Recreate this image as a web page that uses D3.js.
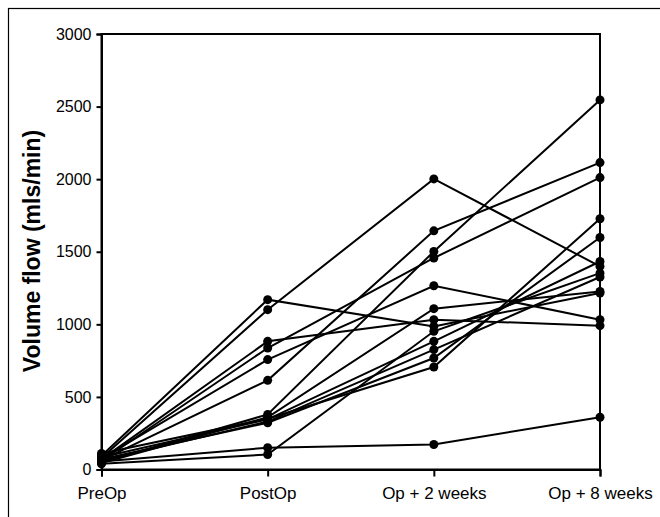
<!DOCTYPE html>
<html>
<head>
<meta charset="utf-8">
<script src="https://cdn.jsdelivr.net/npm/d3@7"></script>
<style>
body { margin:0; background:#fff; }
text { font-family: "Liberation Sans", Arial, sans-serif; fill:#000; }
</style>
</head>
<body>
<script>
var categories = ['PreOp','PostOp','Op + 2 weeks','Op + 8 weeks'];
var yTicks = [0,500,1000,1500,2000,2500,3000];
// one array per patient: PreOp, PostOp, Op+2 weeks, Op+8 weeks
var patient1  = [80, 1101, 2002, 1399];
var patient2  = [95, 1170, 986, 1216];
var patient3  = [70, 883, 1032, 991];
var patient4  = [60, 837, 1457, 2011];
var patient5  = [75, 757, 1266, 1032];
var patient6  = [65, 614, 1644, 2114];
var patient7  = [50, 379, 1502, 2546];
var patient8  = [40, 103, 952, 1353];
var patient9  = [55, 150, 172, 360];
var patient10 = [45, 360, 1108, 1227];
var patient11 = [85, 345, 883, 1433];
var patient12 = [60, 330, 826, 1326];
var patient13 = [70, 322, 768, 1598];
var patient14 = [110, 350, 706, 1727];
var patients = [patient1,patient2,patient3,patient4,patient5,patient6,patient7,
                patient8,patient9,patient10,patient11,patient12,patient13,patient14];

var svg = d3.select('body').append('svg').attr('width',660).attr('height',517);

// outer frame of the figure
svg.append('rect').attr('x',8.5).attr('y',8.5).attr('width',700).attr('height',600)
  .attr('fill','none').attr('stroke','#000').attr('stroke-width',1.2);

var x = d3.scalePoint().domain(categories).range([101.5,600]);
var y = d3.scaleLinear().domain([0,3000]).range([469.5,34]);

// box around plot
svg.append('rect').attr('x',101.5).attr('y',34).attr('width',498.5).attr('height',435.5)
  .attr('fill','none').attr('stroke','#000').attr('stroke-width',2);

var yAxis = svg.append('g').attr('transform','translate(101.5,0)')
  .call(d3.axisLeft(y).tickValues(yTicks).tickSize(5).tickPadding(5).tickFormat(d3.format('d')));
yAxis.select('.domain').attr('stroke-width',2);
yAxis.selectAll('line').attr('stroke-width',2);
yAxis.selectAll('text').attr('font-size',16).style('font-family','"Liberation Sans", Arial, sans-serif');

var xAxis = svg.append('g').attr('transform','translate(0,469.5)')
  .call(d3.axisBottom(x).tickSize(7).tickPadding(10));
xAxis.select('.domain').attr('stroke-width',2);
xAxis.selectAll('line').attr('stroke-width',2);
xAxis.selectAll('text').attr('font-size',17).style('font-family','"Liberation Sans", Arial, sans-serif');

svg.append('text')
  .attr('transform','translate(40,251) rotate(-90)')
  .attr('text-anchor','middle')
  .attr('font-size',23)
  .attr('font-weight','bold')
  .text('Volume flow (mls/min)');

var line = d3.line()
  .x(function(d,i){ return x(categories[i]); })
  .y(function(d){ return y(d); });

svg.selectAll('path.patient')
  .data(patients)
  .enter().append('path')
    .attr('class','patient')
    .attr('d',line)
    .attr('fill','none')
    .attr('stroke','#000')
    .attr('stroke-width',2);

patients.forEach(function(p){
  svg.selectAll(null)
    .data(p)
    .enter().append('circle')
      .attr('cx',function(d,i){ return x(categories[i]); })
      .attr('cy',function(d){ return y(d); })
      .attr('r',4.5)
      .attr('fill','#000');
});
</script>
</body>
</html>
